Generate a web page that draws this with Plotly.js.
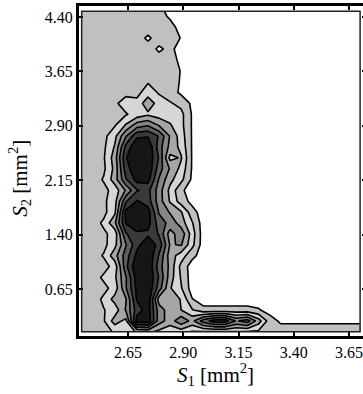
<!DOCTYPE html>
<html>
<head>
<meta charset="utf-8">
<script src="https://cdn.plot.ly/plotly-3.0.1.min.js"></script>
<style>
html,body{margin:0;padding:0;overflow:hidden;background:#fff;}
#chart{width:372px;height:394px;}
</style>
</head>
<body>
<div id="chart"></div>
<script>
// grid coordinates (S1, S2 in mm^2)
const s1Grid = [2.44,2.49,2.54,2.59,2.64,2.69,2.74,2.79,2.84,2.89,2.94,2.99,3.04,3.09,3.14,3.19,3.24,3.29,3.34,3.39,3.44,3.49,3.54,3.59,3.64,3.70];
const s2Grid = [0.06,0.21,0.36,0.51,0.66,0.81,0.96,1.11,1.26,1.41,1.56,1.71,1.86,2.01,2.16,2.31,2.46,2.61,2.76,2.91,3.06,3.21,3.36,3.51,3.66,3.81,3.96,4.11,4.26,4.41,4.48];
// density level per grid point (rows follow s2Grid, columns follow s1Grid)
const density = [
[1,1,1.2,1.6,2.0,2.6,2.8,2.2,1.8,2.0,1.4,1.4,1.4,1.4,1.4,1.4,1.3,1.1,1,1,1,1,1,1,1,1],
[1,1,1.4,3.0,2.2,7.0,7.2,4.0,3.0,4.2,3.2,5.0,6.0,6.0,4.4,5.0,3.0,1.0,0.32,0.32,0.32,0.32,0.32,0.32,0.32,0.32],
[1,1.1,1.45,1.9,3.6,6.0,7.0,4.0,3.0,2.5,1.6,0.8,0.8,0.8,0.8,0.8,0.6,0.1,0,0,0,0,0,0,0,0],
[1,1,1.7,2.9,3.4,6.6,7.3,3.0,3.4,2.4,0.55,0,0,0,0,0,0,0,0,0,0,0,0,0,0,0],
[1,1,1.2,1.9,4.4,6.8,7.4,5.0,2.6,1.6,0,0,0,0,0,0,0,0,0,0,0,0,0,0,0,0],
[1,1,1.7,2.3,4.4,7.0,7.6,5.4,3.0,1.4,0,0,0,0,0,0,0,0,0,0,0,0,0,0,0,0],
[1,1,1.1,1.9,5.2,7.4,7.4,5.0,3.2,1.2,0,0,0,0,0,0,0,0,0,0,0,0,0,0,0,0],
[1,1,1.6,3.1,5.0,6.8,7.4,5.4,3.0,2.0,0.8,0,0,0,0,0,0,0,0,0,0,0,0,0,0,0],
[1,1,1.2,2.2,4.4,6.2,7.2,6.2,3.4,3.6,1.8,0,0,0,0,0,0,0,0,0,0,0,0,0,0,0],
[1,1,1.3,1.9,5.4,6.2,6.3,5.4,3.0,4.2,2.0,0,0,0,0,0,0,0,0,0,0,0,0,0,0,0],
[1,1,1.7,3.3,6.6,7.6,6.9,5.0,4.2,3.0,1.6,0,0,0,0,0,0,0,0,0,0,0,0,0,0,0],
[1,1,1.2,2.3,6.8,7.4,7.0,4.4,3.4,2.6,0.9,0,0,0,0,0,0,0,0,0,0,0,0,0,0,0],
[1,1,1.3,2.1,5.4,6.6,6.0,4.0,2.4,1.0,0.2,0,0,0,0,0,0,0,0,0,0,0,0,0,0,0],
[1,1,1.2,1.9,3.6,5.4,5.8,4.0,2.2,0.7,0,0,0,0,0,0,0,0,0,0,0,0,0,0,0,0],
[1,1,1.6,3.0,5.4,6.9,6.9,4.4,2.8,1.8,0.3,0,0,0,0,0,0,0,0,0,0,0,0,0,0,0],
[1,1,1.3,2.8,6.0,7.4,7.3,5.0,3.4,2.2,0.4,0,0,0,0,0,0,0,0,0,0,0,0,0,0,0],
[1,1,1.4,3.0,6.4,7.6,7.4,5.4,2.2,2.6,0.4,0,0,0,0,0,0,0,0,0,0,0,0,0,0,0],
[1,1,1.3,2.6,5.8,7.4,7.4,5.0,3.2,2.2,0.4,0,0,0,0,0,0,0,0,0,0,0,0,0,0,0],
[1,1,1.2,2.2,4.4,6.3,6.4,5.4,3.4,2.0,0.4,0,0,0,0,0,0,0,0,0,0,0,0,0,0,0],
[1,1,1,1.4,2.6,4.0,4.4,3.4,2.6,1.8,0.4,0,0,0,0,0,0,0,0,0,0,0,0,0,0,0],
[1,1,1,1,1.4,1.9,2.3,2.0,2.0,1.8,0.4,0,0,0,0,0,0,0,0,0,0,0,0,0,0,0],
[1,1,1,1.3,2.0,1.8,3.2,2.0,1.6,1.2,0.3,0,0,0,0,0,0,0,0,0,0,0,0,0,0,0],
[1,1,1,1,1.2,1.2,2.0,1.4,1,0.3,0,0,0,0,0,0,0,0,0,0,0,0,0,0,0,0],
[1,1,1,1,1,1,1.4,1,1,0.4,0,0,0,0,0,0,0,0,0,0,0,0,0,0,0,0],
[1,1,1,1,1,1,1,1,1,0.45,0,0,0,0,0,0,0,0,0,0,0,0,0,0,0,0],
[1,1,1,1,1,1,1,1,1,0.2,0,0,0,0,0,0,0,0,0,0,0,0,0,0,0,0],
[1,1,1,1,1,1,1,0.3,0.8,0,0,0,0,0,0,0,0,0,0,0,0,0,0,0,0,0],
[1,1,1,1,1,1,0.3,1,1,0.45,0,0,0,0,0,0,0,0,0,0,0,0,0,0,0,0],
[1,1,1,1,1,1,1,1,1,0,0,0,0,0,0,0,0,0,0,0,0,0,0,0,0,0],
[1,1,1,1,1,1,1,1,0.3,0,0,0,0,0,0,0,0,0,0,0,0,0,0,0,0,0],
[1,1,1,1,1,1,1,1,0,0,0,0,0,0,0,0,0,0,0,0,0,0,0,0,0,0]
];
const xTicks = [2.65,2.90,3.15,3.40,3.65];
const yTicks = [0.65,1.40,2.15,2.90,3.65,4.40];

const bandColors = ['#ffffff','#c0c0c0','#d6d6d6','#a6a6a6','#868686','#5e5e5e','#3a3a3a','#161616'];
const colorscale = bandColors.map((c,i)=>[i/(bandColors.length-1), c]);

const trace = {
  type:'contour',
  x:s1Grid, y:s2Grid, z:density,
  autocontour:false,
  contours:{start:0.5,end:6.5,size:1,coloring:'fill'},
  colorscale:colorscale,
  showscale:false,
  line:{color:'#000',width:1.6,smoothing:0},
  hoverinfo:'skip'
};

const axisCommon = {
  showline:true, linewidth:3, linecolor:'#000', mirror:'ticks',
  ticks:'inside', ticklen:4, tickwidth:2, tickcolor:'#000',
  showgrid:false, zeroline:false,
  tickfont:{family:'Liberation Serif, Times New Roman, serif', size:16, color:'#000'},
  tickformat:'.2f'
};

const layout = {
  width:372, height:394,
  margin:{l:79,r:6,t:6,b:58},
  paper_bgcolor:'#fff', plot_bgcolor:'#fff',
  xaxis:Object.assign({}, axisCommon, {range:[2.428,3.7267], tickvals:xTicks}),
  yaxis:Object.assign({}, axisCommon, {range:[0.002,4.553], tickvals:yTicks}),
  shapes:[{
    type:'rect', xref:'x', yref:'y', layer:'above',
    x0:s1Grid[0], x1:s1Grid[s1Grid.length-1],
    y0:s2Grid[0], y1:s2Grid[s2Grid.length-1],
    line:{color:'#222', width:1.5}
  }],
  annotations:[
    {xref:'paper', yref:'paper', x:0.474, y:-0.116, xanchor:'center', yanchor:'middle', showarrow:false,
     text:'<i>S</i><sub>1</sub> [mm<sup>2</sup>]',
     font:{family:'Liberation Serif, Times New Roman, serif', size:21, color:'#000'}},
    {xref:'paper', yref:'paper', x:-0.206, y:0.479, xanchor:'center', yanchor:'middle', showarrow:false, textangle:-90,
     text:'<i>S</i><sub>2</sub> [mm<sup>2</sup>]',
     font:{family:'Liberation Serif, Times New Roman, serif', size:21, color:'#000'}}
  ]
};

Plotly.newPlot('chart',[trace],layout,{displayModeBar:false,staticPlot:true});
</script>
</body>
</html>
